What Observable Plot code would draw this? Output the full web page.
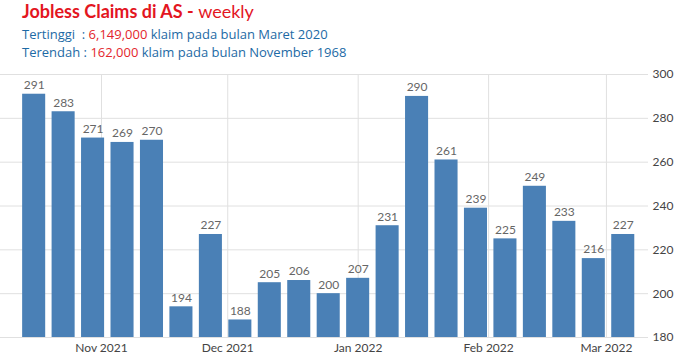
<!DOCTYPE html>
<html><head><meta charset="utf-8">
<script src="https://cdn.jsdelivr.net/npm/d3@7"></script>
<script src="https://cdn.jsdelivr.net/npm/@observablehq/plot@0.6"></script>
<style>
body{margin:0;background:#fff;width:678px;height:357px;overflow:hidden;font-family:Lato,"Open Sans",sans-serif}
#head{height:62px;padding-left:22px;padding-top:1px;box-sizing:border-box}
.t{font-size:18px;line-height:20px;color:#e3161f;font-weight:bold;height:24px}
.t .w{font-weight:normal}
.s{font-family:"Open Sans",sans-serif;font-size:13px;line-height:18px;color:#1d6aa5}
.s .r{color:#e3262c}
#chart svg{display:block}
</style></head><body>
<div id="head">
<div class="t">Jobless Claims di AS - <span class="w">weekly</span></div>
<div class="s">Tertinggi&nbsp; : <span class="r">6,149,000</span> klaim pada bulan Maret 2020</div>
<div class="s">Terendah : <span class="r">162,000</span> klaim pada bulan November 1968</div>
</div>
<div id="chart"></div>
<script>
const weekEnding = ["2021-10-16","2021-10-23","2021-10-30","2021-11-06","2021-11-13","2021-11-20","2021-11-27","2021-12-04","2021-12-11","2021-12-18","2021-12-25","2022-01-01","2022-01-08","2022-01-15","2022-01-22","2022-01-29","2022-02-05","2022-02-12","2022-02-19","2022-02-26","2022-03-05"];
const claims = [291,283,271,269,270,194,227,188,205,206,200,207,231,290,261,239,225,249,233,216,227];
const monthTicks = ["2021-11-01","2021-12-01","2022-01-01","2022-02-01","2022-03-01"];
const yTicks = [180,200,220,240,260,280,300];
const xDomain = ["2021-10-08","2022-03-11"];

const data = weekEnding.map((d, i) => ({date: new Date(d), value: claims[i]}));
const months = monthTicks.map(d => new Date(d));
const halfWeek = 3.5 * 864e5;

const plot = Plot.plot({
  width: 678, height: 295,
  marginLeft: 0, marginRight: 30, marginTop: 12, marginBottom: 20,
  style: {fontFamily: "Lato, 'Open Sans', sans-serif", fontSize: "12px", color: "#444", background: "#fff", overflow: "visible"},
  x: {type: "utc", domain: xDomain.map(d => new Date(d)), ticks: months, tickFormat: d3.utcFormat("%b %Y"), tickSize: 0, tickPadding: 6, label: null},
  y: {domain: [yTicks[0], yTicks[yTicks.length - 1]], axis: "right", ticks: yTicks, tickSize: 0, tickPadding: 4, label: null},
  marks: [
    Plot.ruleY(yTicks, {stroke: "#e0e0e0"}),
    Plot.ruleX(months, {stroke: "#e0e0e0", y1: yTicks[0], y2: yTicks[yTicks.length - 1]}),
    Plot.rectY(data, {
      x1: d => new Date(+d.date - halfWeek),
      x2: d => new Date(+d.date + halfWeek),
      y1: yTicks[0], y2: "value",
      fill: "#4a80b6", insetLeft: 3.2, insetRight: 3.2
    }),
    Plot.text(data, {x: "date", y: "value", text: d => String(d.value), dy: -9, fill: "#666", fontSize: 12})
  ]
});
document.getElementById("chart").appendChild(plot);
</script>
</body></html>
